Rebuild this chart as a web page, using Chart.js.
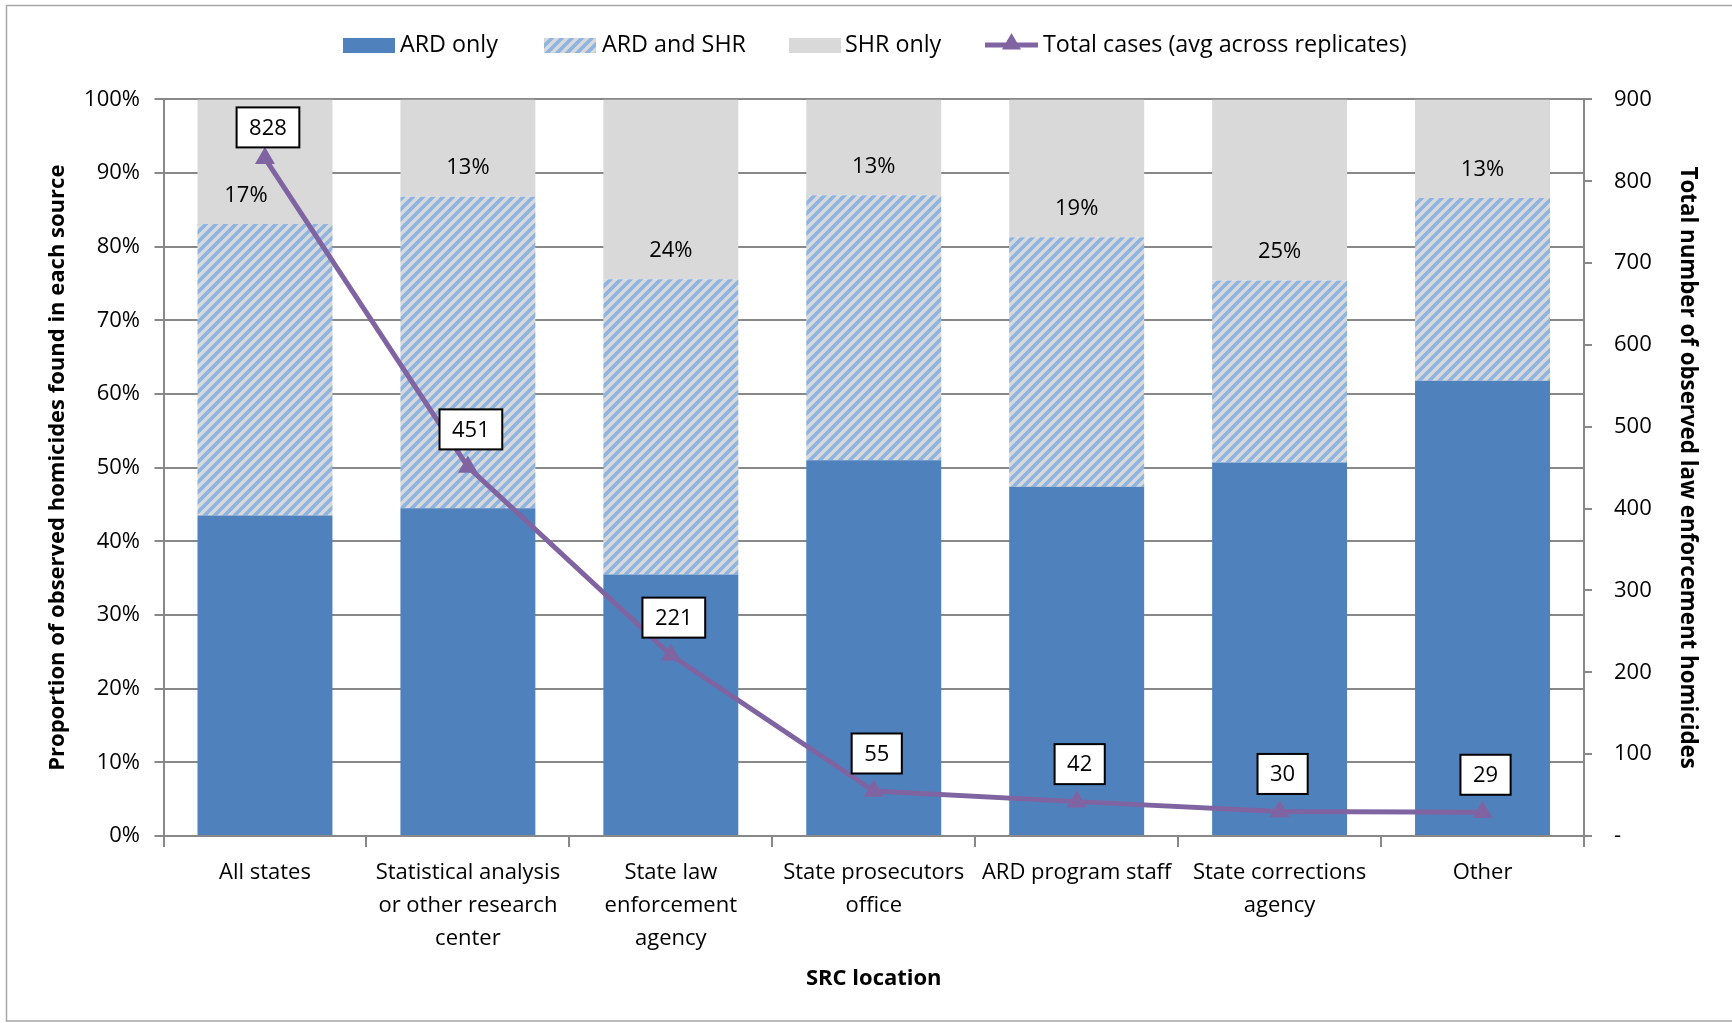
<!DOCTYPE html>
<html><head><meta charset="utf-8">
<script src="https://cdn.jsdelivr.net/npm/chart.js@4"></script>
<style>html,body{margin:0;padding:0;background:#fff}canvas{display:block}</style>
</head><body>
<canvas id="c" width="1732" height="1023" style="width:1732px;height:1023px"></canvas>
<script>
// ---- data ----
const categories = [
  ['All states'],
  ['Statistical analysis', 'or other research', 'center'],
  ['State law', 'enforcement', 'agency'],
  ['State prosecutors', 'office'],
  ['ARD program staff'],
  ['State corrections', 'agency'],
  ['Other']
];
const seriesNames = ['ARD only', 'ARD and SHR', 'SHR only', 'Total cases (avg across replicates)'];
const ardOnly   = [43.5, 44.5, 35.5, 51.0, 47.4, 50.7, 61.8];
const ardAndShr = [39.6, 42.3, 40.1, 36.0, 33.9, 24.7, 24.8];
const shrOnly   = [16.9, 13.2, 24.4, 13.0, 18.7, 24.6, 13.4];
const totalCases = [828, 451, 221, 55, 42, 30, 29];
const leftAxis  = {min: 0, max: 100, step: 10};
const rightAxis = {min: 0, max: 900, step: 100};
const leftTitle  = 'Proportion of observed homicides found in each source';
const rightTitle = 'Total number of observed law enforcement homicides';
const xTitle = 'SRC location';

// ---- styles ----
const FONT = "'Open Sans', 'Liberation Sans', sans-serif";
const C_ARD = '#4F81BD', C_SHR = '#D9D9D9', C_HATCH = '#8DB4E2', C_LINE = '#8064A2', C_AXIS = '#888888';

function makeHatch() {
  const p = 10;
  const cv = document.createElement('canvas');
  cv.width = p; cv.height = p;
  const g = cv.getContext('2d');
  g.fillStyle = C_SHR; g.fillRect(0, 0, p, p);
  g.strokeStyle = C_HATCH; g.lineWidth = 3.6; g.lineCap = 'square';
  for (let k = -1; k <= 1; k++) {
    g.beginPath(); g.moveTo(k * p, p); g.lineTo(k * p + p, 0); g.stroke();
  }
  return document.getElementById('c').getContext('2d').createPattern(cv, 'repeat');
}

function tri(ctx, x, y, r, color) {
  ctx.beginPath();
  ctx.moveTo(x, y - r);
  ctx.lineTo(x + r * 0.866, y + r * 0.5);
  ctx.lineTo(x - r * 0.866, y + r * 0.5);
  ctx.closePath();
  ctx.fillStyle = color; ctx.fill();
}

const decor = {
  id: 'decor',
  beforeDraw(chart) {
    const c = chart.ctx;
    c.save();
    c.fillStyle = '#fff'; c.fillRect(0, 0, chart.width, chart.height);
    c.strokeStyle = '#A6A6A6'; c.lineWidth = 1.5;
    c.strokeRect(6.5, 5.5, 1780, 1015.5);
    c.restore();
  },
  afterDatasetsDraw(chart) {
    const c = chart.ctx;
    const area = chart.chartArea;
    c.save();
    c.font = '22px ' + FONT;
    c.fillStyle = '#000';
    c.textAlign = 'center'; c.textBaseline = 'middle';
    // SHR only labels, near segment base
    const shrMeta = chart.getDatasetMeta(3);
    shrMeta.data.forEach((el, i) => {
      const dx = i === 0 ? -19 : 0;
      c.fillText(Math.round(shrOnly[i]) + '%', el.x + dx, el.base - 28.5);
    });
    // total cases boxed labels
    const lineMeta = chart.getDatasetMeta(0);
    lineMeta.data.forEach((pt, i) => {
      const txt = String(totalCases[i]);
      const w = c.measureText(txt).width + 25, h = 40;
      let cx = pt.x + 3, cy = pt.y - 37.5;
      if (cy - h / 2 < area.top + 8) cy = area.top + 8 + h / 2;
      c.fillStyle = '#fff';
      c.fillRect(cx - w / 2, cy - h / 2, w, h);
      c.strokeStyle = '#000'; c.lineWidth = 2;
      c.strokeRect(cx - w / 2, cy - h / 2, w, h);
      c.fillStyle = '#000';
      c.fillText(txt, cx, cy + 1);
    });
    c.restore();
  },
  afterDraw(chart) {
    const c = chart.ctx;
    c.save();
    c.font = '23.3px ' + FONT;
    c.fillStyle = '#000'; c.textAlign = 'left'; c.textBaseline = 'middle';
    const y = 45;
    const ds = chart.data.datasets;
    c.fillStyle = ds[1].backgroundColor; c.fillRect(343, 38, 52, 15);
    c.fillStyle = '#000'; c.fillText(ds[1].label, 400, y);
    c.fillStyle = ds[2].backgroundColor; c.fillRect(544, 38, 52, 15);
    c.fillStyle = '#000'; c.fillText(ds[2].label, 602, y);
    c.fillStyle = ds[3].backgroundColor; c.fillRect(789, 38, 52, 15);
    c.fillStyle = '#000'; c.fillText(ds[3].label, 845, y);
    c.strokeStyle = C_LINE; c.lineWidth = 5;
    c.beginPath(); c.moveTo(985, y); c.lineTo(1038, y); c.stroke();
    tri(c, 1011.5, y - 1, 11, C_LINE);
    c.fillStyle = '#000'; c.fillText(ds[0].label, 1043, y);
    c.restore();
  }
};

function build() {
  const hatch = makeHatch();
  const tickFont = {family: FONT, size: 22};
  new Chart(document.getElementById('c'), {
    data: {
      labels: categories,
      datasets: [
        {type: 'line', label: seriesNames[3], data: totalCases, yAxisID: 'y2',
         borderColor: C_LINE, backgroundColor: C_LINE, borderWidth: 5,
         pointStyle: 'triangle', pointRadius: 11.5, pointHoverRadius: 11.5,
         pointBorderWidth: 0, tension: 0, order: 0},
        {type: 'bar', label: seriesNames[0], data: ardOnly, backgroundColor: C_ARD, yAxisID: 'y', stack: 's', order: 1},
        {type: 'bar', label: seriesNames[1], data: ardAndShr, backgroundColor: hatch, yAxisID: 'y', stack: 's', order: 1},
        {type: 'bar', label: seriesNames[2], data: shrOnly, backgroundColor: C_SHR, yAxisID: 'y', stack: 's', order: 1}
      ]
    },
    options: {
      responsive: false, animation: false, devicePixelRatio: 1,
      layout: {padding: {left: 0, right: 0, top: 99.4, bottom: 0}},
      plugins: {legend: {display: false}, tooltip: {enabled: false}},
      datasets: {bar: {categoryPercentage: 1, barPercentage: 0.665}},
      scales: {
        x: {
          stacked: true,
          grid: {display: true, drawOnChartArea: false, drawTicks: true, tickLength: 11, color: C_AXIS, lineWidth: 2, offset: true},
          border: {display: true, color: C_AXIS, width: 2},
          ticks: {font: Object.assign({lineHeight: 1.5}, tickFont), color: '#000', padding: 8.8, autoSkip: false, maxRotation: 0, minRotation: 0},
          title: {display: true, text: xTitle, color: '#000', font: {family: FONT, size: 22, weight: 'bold', lineHeight: 1.2}, padding: {top: 0, bottom: 31}},
          afterFit(s) { s.height = 187; }
        },
        y: {
          stacked: true, position: 'left', min: leftAxis.min, max: leftAxis.max,
          grid: {color: C_AXIS, lineWidth: 2, tickLength: 9, drawTicks: true},
          border: {display: true, color: C_AXIS, width: 2},
          ticks: {stepSize: leftAxis.step, font: tickFont, color: '#000', padding: 14.5, callback: v => v + '%'},
          title: {display: true, text: leftTitle, color: '#000', font: {family: FONT, size: 22, weight: 'bold', lineHeight: 1.2}, padding: {top: 44.2, bottom: 0}},
          afterFit(s) { s.width = 163.5; }
        },
        y2: {
          position: 'right', min: rightAxis.min, max: rightAxis.max,
          grid: {drawOnChartArea: false, color: C_AXIS, lineWidth: 2, tickLength: 8, drawTicks: true},
          border: {display: true, color: C_AXIS, width: 2},
          ticks: {stepSize: rightAxis.step, font: tickFont, color: '#000', padding: 22, callback: v => v === 0 ? '-' : String(v)},
          title: {display: true, text: rightTitle, color: '#000', font: {family: FONT, size: 22.3, weight: 'bold', lineHeight: 1.2}, padding: {top: 31.6, bottom: 0}},
          afterFit(s) { s.width = 148; }
        }
      }
    },
    plugins: [decor]
  });
}

if (document.fonts && document.fonts.load) {
  Promise.all([
    document.fonts.load("22px 'Open Sans'"),
    document.fonts.load("bold 22px 'Open Sans'")
  ]).then(build, build);
} else { build(); }
</script>
</body></html>
